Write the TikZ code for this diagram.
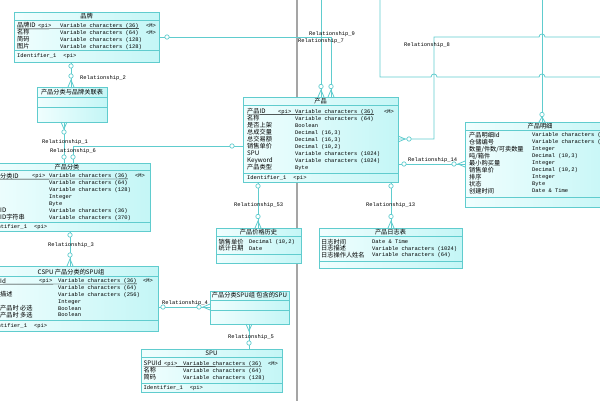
\documentclass[tikz,border=0pt]{standalone}
\usepackage{fontspec}
\setmainfont{Liberation Mono}
\newfontfamily\cjk{Noto Sans CJK SC}
\usepackage{tikz}
\usetikzlibrary{calc}

\definecolor{pdline}{RGB}{96,204,206}
\definecolor{pdfillA}{RGB}{240,254,254}
\definecolor{pdfillB}{RGB}{196,246,246}
\definecolor{pdgray}{RGB}{165,165,165}

\newcommand{\zh}{\cjk\fontsize{6.2}{7}\selectfont}
\newcommand{\en}{\fontsize{5.45}{6}\selectfont}

\begin{document}
\begin{tikzpicture}[x=1pt, y=-1pt,
  ent/.style={draw=pdline, line width=0.8pt, left color=pdfillA, right color=pdfillB, inner sep=0pt, outer sep=0pt, anchor=north west},
  sepline/.style={pdline, line width=0.6pt},
  pkline/.style={black, line width=0.35pt},
  rel/.style={pdline, line width=0.8pt},
  ocirc/.style={pdline, line width=0.7pt, fill=white},
  ttltext/.style={anchor=base, yshift=-2.2pt, inner sep=0pt, font=\zh},
  nmtext/.style={anchor=base west, yshift=-2.2pt, inner sep=0pt, font=\zh},
  tytext/.style={anchor=base west, yshift=-1.9pt, inner sep=0pt, font=\en},
  rellab/.style={anchor=base west, yshift=-1.9pt, inner sep=0pt, font=\en}]
\useasboundingbox (0,0) rectangle (600,400);
\clip (0,0) rectangle (600,400);

\draw[pdgray, line width=2pt] (297,-2) -- (297,402);

\node[ent, minimum width=145pt, minimum height=50pt] (brand) at (14,12) {};
\draw[sepline] (14,20) -- (159,20) (14,50) -- (159,50);
\node[ttltext] (brand-t) at (86.5,16) {品牌};
\node[nmtext] (brand-n1) at (17,25.7) {品牌ID};
\node[tytext] (brand-p1) at (38,25.7) {<pi>};
\node[tytext] (brand-y1) at (60,25.7) {Variable characters (36)};
\node[tytext] (brand-m1) at (146,25.7) {<M>};
\node[tytext] (brand-m2) at (146,32.5) {<M>};
\draw[pkline] ([yshift=-1pt]brand-n1.base west) -- ([yshift=-1pt]brand-y1.base east);
\foreach \nm/\ty [count=\i from 2] in {名称/Variable characters (64), 简码/Variable characters (128), 图片/Variable characters (128)}{
  \node[nmtext] (brand-n\i) at (17,{25.7+6.8*(\i-1)}) {\nm};
  \node[tytext] (brand-y\i) at (60,{25.7+6.8*(\i-1)}) {\ty};
}
\node[tytext] (brand-id) at (17,56) {Identifier\_1\hspace{7pt}<pi>};

\node[ent, minimum width=70pt, minimum height=35pt] (assoc) at (37,87) {};
\draw[sepline] (37,97.3) -- (107,97.3) (37,107.3) -- (107,107.3);
\node[ttltext] (assoc-t) at (72,92.3) {产品分类与品牌关联表};

\node[ent, minimum width=166pt, minimum height=68pt] (cat) at (-16,163) {};
\draw[sepline] (-16,170.5) -- (150,170.5) (-16,222.5) -- (150,222.5);
\node[ttltext] (cat-t) at (67,166.8) {产品分类};
\node[nmtext] (cat-n1) at (-12.4,176) {产品分类ID};
\node[tytext] (cat-p1) at (32,176) {<pi>};
\node[tytext] (cat-y1) at (49,176) {Variable characters (36)};
\node[tytext] (cat-m1) at (135,176) {<M>};
\draw[pkline] ([yshift=-1pt]cat-n1.base west) -- ([yshift=-1pt]cat-y1.base east);
\foreach \nm/\ty [count=\i from 2] in {名称/Variable characters (64), 简码/Variable characters (128), 排序/Integer, 状态/Byte, 父级ID/Variable characters (36), 父级ID字符串/Variable characters (370)}{
  \node[nmtext] (cat-n\i) at (-12.4,{176+6.85*(\i-1)}) {\nm};
  \node[tytext] (cat-y\i) at (49,{176+6.85*(\i-1)}) {\ty};
}
\node[tytext] (cat-id) at (-12.4,227) {Identifier\_1\hspace{7pt}<pi>};

\node[ent, minimum width=174pt, minimum height=65pt] (cspu) at (-16,266) {};
\draw[sepline] (-16,276.7) -- (158,276.7) (-16,320) -- (158,320);
\node[ttltext] (cspu-t) at (71,271.8) {CSPU 产品分类的SPU组};
\node[nmtext] (cspu-n1) at (-12.4,281) {分组Id};
\node[tytext] (cspu-p1) at (39,281) {<pi>};
\node[tytext] (cspu-y1) at (58,281) {Variable characters (36)};
\node[tytext] (cspu-m1) at (143,281) {<M>};
\draw[pkline] ([yshift=-1pt]cspu-n1.base west) -- ([yshift=-1pt]cspu-y1.base east);
\foreach \nm/\ty [count=\i from 2] in {名称/Variable characters (64), 分组描述/Variable characters (256), 排序/Integer, 添加产品时 必选/Boolean, 添加产品时 多选/Boolean}{
  \node[nmtext] (cspu-n\i) at (-12.4,{281+6.8*(\i-1)}) {\nm};
  \node[tytext] (cspu-y\i) at (58,{281+6.8*(\i-1)}) {\ty};
}
\node[tytext] (cspu-id) at (-12.4,325.5) {Identifier\_1\hspace{7pt}<pi>};

\node[ent, minimum width=79pt, minimum height=33pt] (grp) at (210,291) {};
\draw[sepline] (210,300) -- (289,300) (210,310) -- (289,310);
\node[ttltext] (grp-t) at (249.5,295.5) {产品分类SPU组 包含的SPU};

\node[ent, minimum width=141pt, minimum height=43pt] (spu) at (141,349) {};
\draw[sepline] (141,357) -- (282,357) (141,383) -- (282,383);
\node[ttltext] (spu-t) at (211.5,353) {SPU};
\node[nmtext] (spu-n1) at (143.5,363.3) {SPUId};
\node[tytext] (spu-p1) at (164,363.3) {<pi>};
\node[tytext] (spu-y1) at (183,363.3) {Variable characters (36)};
\node[tytext] (spu-m1) at (268,363.3) {<M>};
\draw[pkline] ([yshift=-1pt]spu-n1.base west) -- ([yshift=-1pt]spu-y1.base east);
\node[nmtext] (spu-n2) at (143.5,370.3) {名称};
\node[tytext] (spu-y2) at (183,370.3) {Variable characters (64)};
\node[nmtext] (spu-n3) at (143.5,377.3) {简码};
\node[tytext] (spu-y3) at (183,377.3) {Variable characters (128)};
\node[tytext] (spu-id) at (143.5,387.8) {Identifier\_1\hspace{7pt}<pi>};

\node[ent, minimum width=155pt, minimum height=85pt] (prod) at (243,97) {};
\draw[sepline] (243,105.5) -- (398,105.5) (243,173) -- (398,173);
\node[ttltext] (prod-t) at (320.5,101.3) {产品};
\node[nmtext] (prod-n1) at (247,111.5) {产品ID};
\node[tytext] (prod-p1) at (278,111.5) {<pi>};
\node[tytext] (prod-y1) at (295,111.5) {Variable characters (36)};
\node[tytext] (prod-m1) at (384,111.5) {<M>};
\draw[pkline] ([yshift=-1pt]prod-n1.base west) -- ([yshift=-1pt]prod-y1.base east);
\foreach \nm/\ty [count=\i from 2] in {名称/Variable characters (64), 是否上架/Boolean, 总成交量/{Decimal (16,3)}, 总交易额/{Decimal (16,3)}, 销售单价/{Decimal (10,2)}, SPU/Variable characters (1024), Keyword/Variable characters (1024), 产品类型/Byte}{
  \node[nmtext] (prod-n\i) at (247,{111.5+7*(\i-1)}) {\nm};
  \node[tytext] (prod-y\i) at (295,{111.5+7*(\i-1)}) {\ty};
}
\node[tytext] (prod-id) at (247,178) {Identifier\_1\hspace{7pt}<pi>};

\node[ent, minimum width=85pt, minimum height=35pt] (hist) at (216,228) {};
\draw[sepline] (216,236.7) -- (301,236.7) (216,254) -- (301,254);
\node[ttltext] (hist-t) at (258.5,232.3) {产品价格历史};
\node[nmtext] (hist-n1) at (218.5,241.8) {销售单价};
\node[tytext] (hist-y1) at (249,241.8) {Decimal (10,2)};
\node[nmtext] (hist-n2) at (218.5,248.4) {统计日期};
\node[tytext] (hist-y2) at (249,248.4) {Date};

\node[ent, minimum width=143pt, minimum height=40pt] (log) at (319,228) {};
\draw[sepline] (319,236.7) -- (462,236.7) (319,261) -- (462,261);
\node[ttltext] (log-t) at (390.5,232.3) {产品日志表};
\foreach \nm/\ty [count=\i] in {日志时间/Date \& Time, 日志描述/Variable characters (1024), 日志操作人姓名/Variable characters (64)}{
  \node[nmtext] (log-n\i) at (321,{241.8+6.6*(\i-1)}) {\nm};
  \node[tytext] (log-y\i) at (372,{241.8+6.6*(\i-1)}) {\ty};
}

\node[ent, minimum width=155pt, minimum height=85pt] (detail) at (465,122) {};
\draw[sepline] (465,130.7) -- (620,130.7) (465,197.3) -- (620,197.3);
\node[ttltext] (detail-t) at (540,126.5) {产品明细};
\foreach \nm/\ty [count=\i] in {产品明细Id/Variable characters (36), 仓储编号/Variable characters (64), {数量/件数/可卖数量}/Integer, {吨/箱件}/{Decimal (10,3)}, 最小购买量/Integer, 销售单价/{Decimal (10,2)}, 排序/Integer, 状态/Byte, 创建时间/Date \& Time}{
  \node[nmtext] (detail-n\i) at (469,{135+7*(\i-1)}) {\nm};
  \node[tytext] (detail-y\i) at (532,{135+7*(\i-1)}) {\ty};
}

\coordinate (r9top) at (321,-2);
\coordinate (rxtop) at (380,-2);
\coordinate (rxend) at (610,77);
\coordinate (r8top) at (434,37);
\coordinate (r8end) at (610,37);
\coordinate (rdtop) at (542,-2);

\draw[rel] ([xshift=57pt]brand.south west) -- ([xshift=34pt]assoc.north west);
\draw[rel] (68,87) -- (71,80) -- (74,87);
\draw[ocirc] (71,66) circle (2.2pt) (71,76) circle (2.2pt);

\draw[rel] ([xshift=27pt]assoc.south west) -- ([xshift=80pt]cat.north west);
\draw[rel] (61,122) -- (64,129) -- (67,122);
\draw[ocirc] (64,132) circle (2.2pt) (64,157) circle (2.2pt);

\draw[rel] ([xshift=89pt]cat.north west) |- ([yshift=-49pt]prod.north west);
\draw[ocirc] (73,157) circle (2.2pt) (232,146) circle (2.2pt);

\draw[rel] ([xshift=86pt]cat.south west) -- ([xshift=86pt]cspu.north west);
\draw[rel] (67,266) -- (70,259) -- (73,266);
\draw[ocirc] (70,235) circle (2.2pt) (70,255) circle (2.2pt);

\draw[rel] ([yshift=-41pt]cspu.north east) -- ([yshift=-16pt]grp.north west);
\draw[rel] (210,304) -- (203,307) -- (210,310);
\draw[ocirc] (163,307) circle (2.2pt) (199,307) circle (2.2pt);

\draw[rel] ([xshift=39pt]grp.south west) -- ([xshift=108pt]spu.north west);
\draw[rel] (246,324) -- (249,331) -- (252,324);
\draw[ocirc] (249,343) circle (2.2pt);

\draw[rel] ([xshift=15pt]prod.south west) -- ([xshift=42pt]hist.north west);
\draw[rel] (255,228) -- (258,221) -- (261,228);
\draw[ocirc] (258,186) circle (2.2pt) (258,216.5) circle (2.2pt);

\draw[rel] ([xshift=148pt]prod.south west) -- ([xshift=72pt]log.north west);
\draw[rel] (388,228) -- (391,221) -- (394,228);
\draw[ocirc] (391,186) circle (2.2pt) (391,216.5) circle (2.2pt);

\draw[rel] ([yshift=-67pt]prod.north east) -- ([yshift=-42pt]detail.north west);
\draw[rel] (465,161) -- (458,164) -- (465,167);
\draw[ocirc] (404,164) circle (2.2pt) (454,164) circle (2.2pt);

\draw[rel] ([yshift=-42pt]prod.north east) -| (r8top) -- (539,37) .. controls (539,33) and (545,33) .. (545,37) -- (r8end);
\draw[rel] (398,136) -- (405,139) -- (398,142);
\draw[ocirc] (409,139) circle (2.2pt);

\draw[rel] ([yshift=-25pt]brand.north east) -| ([xshift=88pt]prod.north west);
\draw[rel] (328,97) -- (331,90) -- (334,97);
\draw[ocirc] (167,37) circle (2.2pt) (331,86.5) circle (2.2pt);

\draw[rel] (r9top) -- ([xshift=78pt]prod.north west);
\draw[rel] (318,97) -- (321,90) -- (324,97);
\draw[ocirc] (321,86.5) circle (2.2pt);

\draw[rel] (rxtop) |- (431,77) .. controls (431,73) and (437,73) .. (437,77) -- (539,77) .. controls (539,73) and (545,73) .. (545,77) -- (rxend);

\draw[rel] (rdtop) -- ([xshift=77pt]detail.north west);
\draw[rel] (539,122) -- (542,117) -- (545,122);
\draw[ocirc] (542,114.5) circle (2.2pt);

\node[rellab] (rl2) at (80,78) {Relationship\_2};
\node[rellab] (rl1) at (42,141.5) {Relationship\_1};
\node[rellab] (rl6) at (50,150.5) {Relationship\_6};
\node[rellab] (rl3) at (48,244.5) {Relationship\_3};
\node[rellab] (rl4) at (162,302.3) {Relationship\_4};
\node[rellab] (rl5) at (228,337) {Relationship\_5};
\node[rellab] (rl53) at (234,205) {Relationship\_53};
\node[rellab] (rl13) at (366,205) {Relationship\_13};
\node[rellab] (rl14) at (408,160) {Relationship\_14};
\node[rellab] (rl8) at (404,45) {Relationship\_8};
\node[rellab] (rl7) at (298,40.5) {Relationship\_7};
\node[rellab] (rl9) at (309,33.5) {Relationship\_9};
\end{tikzpicture}
\end{document}
